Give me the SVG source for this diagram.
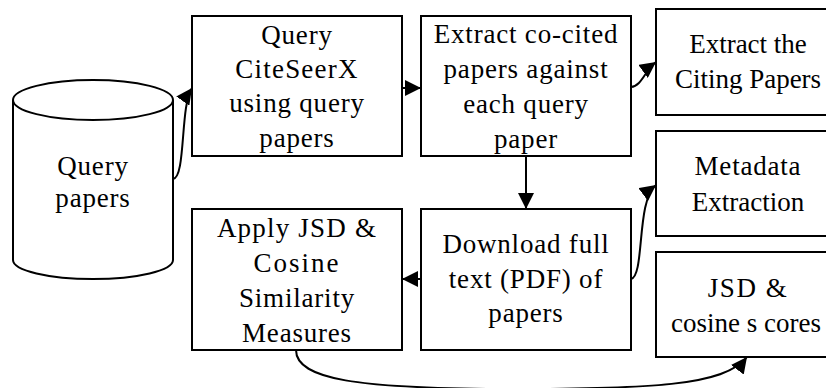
<svg xmlns="http://www.w3.org/2000/svg" width="826" height="388" viewBox="0 0 826 388">
<defs>
<style>
.box{fill:#fff;stroke:#000;stroke-width:2}
.t{font-family:'Liberation Serif','Times New Roman','DejaVu Serif',serif;font-size:27px;fill:#000;text-anchor:middle;letter-spacing:0.8px}
.r{letter-spacing:0}
.c{fill:none;stroke:#000;stroke-width:2}
</style>
<marker id="ah2" viewBox="0 0 10 10" refX="10" refY="5" markerWidth="16" markerHeight="16" markerUnits="userSpaceOnUse" orient="auto">
<path d="M0,0 L10,5 L0,10 z" fill="#000"/>
</marker>
</defs>
<rect width="826" height="388" fill="#fff"/>
<g id="query-papers">
<path class="box" d="M13,100 L13,260 A80,19 0 0 0 173,260 L173,100"/>
<ellipse class="box" cx="93" cy="100" rx="80" ry="20"/>
<text class="t" x="93" y="175">Query</text>
<text class="t" x="93" y="207">papers</text>
</g>
<g id="query-citeseerx">
<rect class="box" x="192" y="16" width="210" height="140"/>
<text class="t" x="297" y="44">Query</text>
<text class="t" x="297" y="78" style="letter-spacing:1.2px">CiteSeerX</text>
<text class="t" x="297" y="112">using query</text>
<text class="t" x="297" y="147">papers</text>
</g>
<g id="extract-cocited">
<rect class="box" x="421" y="16" width="210" height="140"/>
<text class="t" x="526" y="43">Extract co-cited</text>
<text class="t" x="526" y="78">papers against</text>
<text class="t" x="526" y="113">each query</text>
<text class="t" x="526" y="148">paper</text>
</g>
<g id="extract-citing">
<rect class="box" x="656" y="9" width="190" height="106"/>
<text class="t r" x="748" y="53">Extract the</text>
<text class="t r" x="748" y="88">Citing Papers</text>
</g>
<g id="metadata">
<rect class="box" x="656" y="131" width="190" height="105"/>
<text class="t" x="748" y="175">Metadata</text>
<text class="t r" x="748" y="211">Extraction</text>
</g>
<g id="jsd-scores">
<rect class="box" x="656" y="252" width="190" height="105"/>
<text class="t" x="748" y="297" style="letter-spacing:1.5px">JSD &amp;</text>
<text class="t r" x="746" y="332">cosine s cores</text>
</g>
<g id="download">
<rect class="box" x="421" y="209" width="210" height="141"/>
<text class="t" x="526" y="253">Download full</text>
<text class="t" x="526" y="288">text (PDF) of</text>
<text class="t" x="526" y="322">papers</text>
</g>
<g id="apply-jsd">
<rect class="box" x="192" y="209" width="210" height="141"/>
<text class="t" x="297" y="237" style="letter-spacing:1.2px">Apply JSD &amp;</text>
<text class="t" x="297" y="272" style="letter-spacing:2px">Cosine</text>
<text class="t" x="297" y="307">Similarity</text>
<text class="t" x="297" y="342">Measures</text>
</g>
<g id="connectors">
<path class="c" d="M173,179 C186,178 180,105 192,88" marker-end="url(#ah2)"/>
<path class="c" d="M402,88 L421,88" marker-end="url(#ah2)"/>
<path class="c" d="M631,87 C642,86 645,70 656,62" marker-end="url(#ah2)"/>
<path class="c" d="M526,156 L526,209" marker-end="url(#ah2)"/>
<path class="c" d="M631,279 C645,276 636,200 656,185" marker-end="url(#ah2)"/>
<path class="c" d="M421,279 L402,279" marker-end="url(#ah2)"/>
<path class="c" d="M296,350 C296,380 360,388 500,389 C650,389 725,386 747,357" marker-end="url(#ah2)"/>
</g>
</svg>
